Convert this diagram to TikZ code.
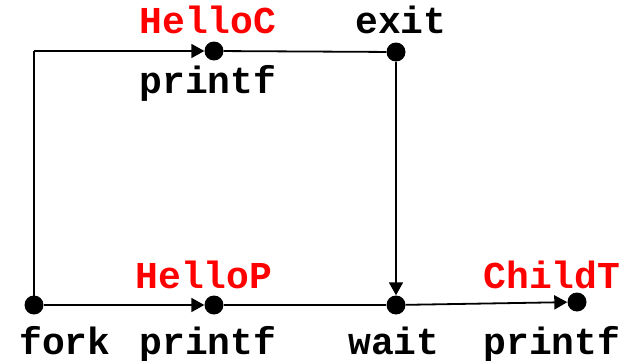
\documentclass[tikz,border=0pt]{standalone}
\usepackage{fontspec}
\setmainfont{Liberation Mono}
\usetikzlibrary{arrows.meta}
\begin{document}
\begin{tikzpicture}[x=1pt,y=1pt,
  dotnode/.style={circle,fill=black,inner sep=0pt,minimum size=19pt},
  lbl/.style={anchor=base,inner sep=0pt,font=\fontsize{38}{38}\selectfont\bfseries},
  redlbl/.style={lbl,text=red},
  flow/.style={line width=1.8pt,-{Triangle[length=13pt,width=14pt]}},
  plain/.style={line width=1.8pt}]
\useasboundingbox (0,0) rectangle (625,360);
\node[dotnode] (fork) at (34,55) {};
\node[dotnode] (pp) at (214,55) {};
\node[dotnode] (wait) at (396,55) {};
\node[dotnode] (cp) at (577,58) {};
\node[dotnode] (pc) at (214,309) {};
\node[dotnode] (exit) at (396,308) {};
\coordinate (corner) at (34,309);
\draw[plain] (fork.center) -- (corner);
\draw[flow] (corner) -- (pc);
\draw[plain] (pc) -- (exit);
\draw[flow] (fork) -- (pp);
\draw[plain] (pp) -- (wait);
\draw[flow] (exit) -- (wait);
\draw[flow] (wait) -- (cp);
\node[redlbl] (lhc) at (208,327) {HelloC};
\node[lbl] (lpc) at (208,267) {printf};
\node[lbl] (lex) at (401,327) {exit};
\node[redlbl] (lhp) at (204,72) {HelloP};
\node[redlbl] (lct) at (552,72) {ChildT};
\node[lbl] (lfk) at (65,6) {fork};
\node[lbl] (lpp) at (208,6) {printf};
\node[lbl] (lwt) at (394,6) {wait};
\node[lbl] (lcp) at (552,6) {printf};
\end{tikzpicture}
\end{document}
